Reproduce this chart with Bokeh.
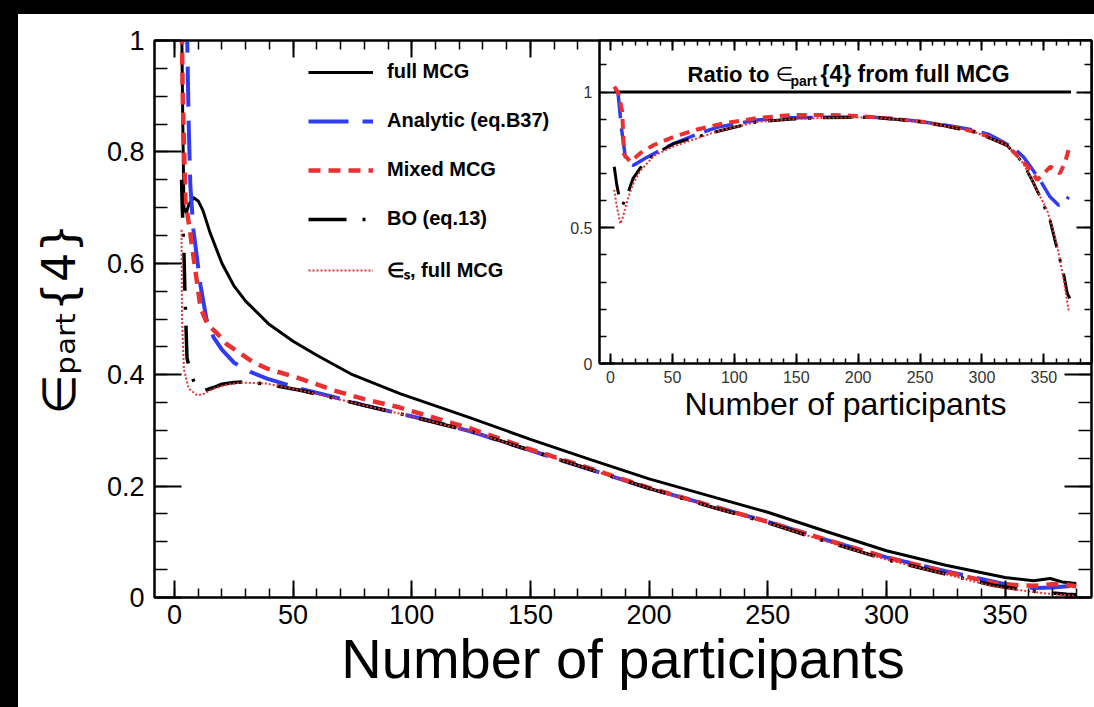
import numpy as np
from bokeh.plotting import figure
from bokeh.models import (Range1d, LinearAxis, SingleIntervalTicker, NumeralTickFormatter,
                          CustomJSTickFormatter, Legend, LegendItem, Label, GridBox)
from bokeh.embed import file_html
from bokeh.resources import INLINE

# ---------------- data (main panel) ----------------
x_full = [3, 3.5, 4, 5, 6, 8, 10, 12, 15, 20, 25, 30, 40, 50, 60, 75, 95, 125, 150, 175,
          200, 225, 250, 275, 300, 325, 350, 362, 369, 374, 380]
y_full = [1.05, 0.86, 0.70, 0.69, 0.705, 0.718, 0.712, 0.695, 0.655, 0.60, 0.56, 0.532, 0.49,
          0.46, 0.435, 0.40, 0.366, 0.322, 0.284, 0.248, 0.213, 0.183, 0.153, 0.118, 0.084,
          0.058, 0.036, 0.030, 0.034, 0.028, 0.025]

x_analytic = [5.2, 6, 6.7, 8, 11, 13.5, 16.5, 20, 25, 32, 39, 53, 67, 80, 95, 110, 125, 150,
              175, 200, 225, 250, 275, 300, 325, 350, 362, 370, 376, 380]
y_analytic = [1.05, 0.85, 0.74, 0.66, 0.56, 0.50, 0.467, 0.445, 0.422, 0.405, 0.393, 0.375,
              0.36, 0.345, 0.33, 0.315, 0.298, 0.264, 0.23, 0.196, 0.166, 0.136, 0.103, 0.072,
              0.047, 0.024, 0.017, 0.018, 0.02, 0.02]

x_mixed = [3, 3.5, 4.6, 6.7, 9.6, 11, 14, 18, 22, 27.8, 33, 39, 53, 67, 80, 95, 110, 125,
           150, 175, 200, 225, 250, 275, 300, 325, 345, 355, 362, 370, 376, 380]
y_mixed = [1.05, 0.9, 0.713, 0.653, 0.563, 0.52, 0.49, 0.474, 0.455, 0.438, 0.423, 0.411,
           0.393, 0.372, 0.356, 0.341, 0.322, 0.303, 0.266, 0.232, 0.197, 0.166, 0.136, 0.103,
           0.072, 0.046, 0.026, 0.022, 0.021, 0.024, 0.023, 0.02]

x_bo = [3, 3.3, 4, 4.6, 5.3, 7, 9, 11, 13, 16.5, 20, 25, 30, 39, 53, 67, 80, 95, 125, 150,
        175, 200, 225, 250, 275, 300, 325, 345, 360, 370, 376, 380]
y_bo = [0.75, 0.70, 0.62, 0.52, 0.43, 0.40, 0.38, 0.372, 0.372, 0.377, 0.383, 0.386, 0.387,
        0.383, 0.372, 0.358, 0.345, 0.33, 0.298, 0.264, 0.23, 0.196, 0.164, 0.134, 0.10,
        0.068, 0.042, 0.022, 0.012, 0.008, 0.006, 0.005]

x_eps = [3, 3.2, 4, 6, 9.6, 12, 16.5, 22, 27.8, 39, 53, 67, 80, 95, 125, 150, 175, 200, 225,
         250, 275, 300, 325, 345, 360, 370, 376, 380]
y_eps = [0.66, 0.50, 0.41, 0.375, 0.363, 0.365, 0.375, 0.382, 0.386, 0.384, 0.372, 0.358,
         0.345, 0.33, 0.298, 0.264, 0.23, 0.196, 0.164, 0.134, 0.10, 0.068, 0.042, 0.02,
         0.011, 0.006, 0.004, 0.003]

# ---------------- data (inset: ratio to full MCG) ----------------
xr_full = [3, 372]
yr_full = [1.0, 1.0]

xr_analytic = [4, 6, 9, 12, 14, 18.6, 24, 28, 40, 51, 70, 86, 100, 118.5, 145, 172, 200, 212,
               230, 253, 275, 293, 305, 317, 326, 333.6, 340, 347, 355, 362, 366, 370]
yr_analytic = [1.01, 1.0, 0.86, 0.76, 0.74, 0.73, 0.745, 0.756, 0.785, 0.81, 0.845, 0.87,
               0.882, 0.897, 0.905, 0.907, 0.908, 0.907, 0.902, 0.89, 0.875, 0.86, 0.845,
               0.817, 0.792, 0.761, 0.72, 0.675, 0.614, 0.583, 0.59, 0.614]

xr_mixed = [3, 6, 9.4, 11, 16, 24, 35, 51, 70, 91.5, 120, 145, 175, 199, 225, 253, 275, 293,
            308, 320, 333, 340, 344.6, 350, 355.4, 360, 363, 367, 370]
yr_mixed = [1.02, 1.0, 0.93, 0.77, 0.743, 0.775, 0.805, 0.835, 0.862, 0.885, 0.905, 0.915,
            0.916, 0.912, 0.903, 0.89, 0.872, 0.855, 0.832, 0.805, 0.745, 0.71, 0.676, 0.70,
            0.725, 0.71, 0.70, 0.74, 0.786]

xr_bo = [3, 5, 8, 10, 13.5, 18, 24, 35, 51, 70, 86, 118, 145, 172, 212, 253, 293, 320, 333,
         340, 347, 355, 361, 366, 369, 371]
yr_bo = [0.725, 0.66, 0.59, 0.585, 0.62, 0.68, 0.72, 0.77, 0.81, 0.835, 0.855, 0.89, 0.90,
         0.905, 0.907, 0.89, 0.855, 0.805, 0.74, 0.68, 0.614, 0.528, 0.417, 0.33, 0.257, 0.24]

xr_eps = [3, 5, 8, 10, 13.5, 18, 24, 35, 51, 70, 86, 118, 145, 172, 212, 253, 293, 320, 333,
          340, 347, 352.6, 357, 361, 366, 370]
yr_eps = [0.64, 0.58, 0.515, 0.54, 0.60, 0.66, 0.71, 0.765, 0.80, 0.83, 0.855, 0.89, 0.90,
          0.905, 0.907, 0.89, 0.855, 0.805, 0.74, 0.68, 0.615, 0.565, 0.50, 0.43, 0.31, 0.196]

series_labels = ["full MCG", "Analytic (eq.B37)", "Mixed MCG", "BO (eq.13)", "\u2208\u209b, full MCG"]

FONT = "Liberation Sans"
BLUE = "#2f3cf2"
RED = "#ea3030"


def make_axis(ticker_interval, minor, tick_in, minor_in, label_size, standoff, show_labels=True):
    ax = LinearAxis(ticker=SingleIntervalTicker(interval=ticker_interval, num_minor_ticks=minor))
    ax.axis_line_width = 2
    ax.axis_line_color = "black"
    ax.major_tick_in = tick_in
    ax.major_tick_out = 0
    ax.minor_tick_in = minor_in
    ax.minor_tick_out = 0
    ax.major_tick_line_width = 2
    ax.minor_tick_line_width = 1.5
    ax.major_label_text_font = FONT
    ax.axis_label_text_color = "black"
    if show_labels:
        ax.formatter = NumeralTickFormatter(format="0.[0]")
        ax.major_label_text_font_size = label_size
        ax.major_label_standoff = standoff
        ax.major_label_text_color = "black"
    else:
        # mirror axis: ticks only, no labels
        ax.formatter = CustomJSTickFormatter(code="return '';")
        ax.major_label_text_font_size = "1px"
        ax.major_label_standoff = 0
    return ax


# ---------------- main figure ----------------
p = figure(width=1076, height=693, output_backend="svg", toolbar_location=None,
           x_range=Range1d(-8.4, 386.4), y_range=Range1d(0, 1),
           min_border_left=136, min_border_right=3, min_border_top=26, min_border_bottom=110,
           x_axis_location=None, y_axis_location=None)
p.grid.visible = False
p.outline_line_color = "black"
p.outline_line_width = 2
p.border_fill_color = "white"
p.background_fill_color = "white"

xb = make_axis(50, 5, 17, 9, "27px", 7)
xb.axis_label = "Number of participants"
xb.axis_label_text_font = FONT
xb.axis_label_text_font_size = "56px"
xb.axis_label_text_font_style = "normal"
xb.axis_label_standoff = 0
p.add_layout(xb, "below")
p.add_layout(make_axis(50, 5, 17, 9, "0px", 0, False), "above")

yl = make_axis(0.2, 4, 27, 13, "27px", 10)
yl.axis_label = "\u2208\u209a\u2090\u1d63\u209c{4}"
yl.axis_label_text_font = "DejaVu Sans"
yl.axis_label_text_font_size = "46px"
yl.axis_label_text_font_style = "normal"
yl.axis_label_standoff = 18
p.add_layout(yl, "left")
p.add_layout(make_axis(0.2, 4, 27, 13, "0px", 0, False), "right")

r1 = p.line(x_full, y_full, line_color="black", line_width=3)
r2 = p.line(x_analytic, y_analytic, line_color=BLUE, line_width=4, line_dash="40 14")
r3 = p.line(x_mixed, y_mixed, line_color=RED, line_width=4.5, line_dash="12 8")
r4 = p.line(x_bo, y_bo, line_color="black", line_width=3.5, line_dash="38 16 3 16")
r5 = p.line(x_eps, y_eps, line_color=RED, line_width=2, line_dash="2 2")

legend = Legend(items=[LegendItem(label=lab, renderers=[r]) for lab, r in
                       zip(series_labels, [r1, r2, r3, r4, r5])],
                location=(154, 314))
legend.label_text_font = FONT
legend.label_text_font_style = "bold"
legend.label_text_font_size = "20px"
legend.label_text_color = "black"
legend.glyph_width = 65
legend.glyph_height = 20
legend.label_height = 20
legend.spacing = 26
legend.padding = 0
legend.margin = 0
legend.label_standoff = 14
legend.border_line_alpha = 0
legend.background_fill_alpha = 0
p.add_layout(legend)

# ---------------- inset figure ----------------
ins = figure(frame_width=492, frame_height=323, output_backend="svg", toolbar_location=None,
             x_range=Range1d(-8.9, 388.5), y_range=Range1d(0, 1.19),
             min_border_left=39, min_border_right=3, min_border_top=10, min_border_bottom=66,
             x_axis_location=None, y_axis_location=None)
ins.grid.visible = False
ins.border_fill_alpha = 0
ins.background_fill_color = "white"
ins.outline_line_color = "black"
ins.outline_line_width = 2

ixb = make_axis(50, 5, 10, 5, "16px", 7)
ixb.major_label_text_color = "#333333"
ixb.axis_label = "Number of participants"
ixb.axis_label_text_font = FONT
ixb.axis_label_text_font_size = "32px"
ixb.axis_label_text_font_style = "normal"
ixb.axis_label_standoff = 0
ins.add_layout(ixb, "below")
ins.add_layout(make_axis(50, 5, 10, 5, "0px", 0, False), "above")
iyl = make_axis(0.5, 5, 15, 7, "16px", 7)
iyl.major_label_text_color = "#333333"
ins.add_layout(iyl, "left")
ins.add_layout(make_axis(0.5, 5, 15, 7, "0px", 0, False), "right")

ins.line(xr_full, yr_full, line_color="black", line_width=3)
ins.line(xr_analytic, yr_analytic, line_color=BLUE, line_width=3.5, line_dash="30 10")
ins.line(xr_mixed, yr_mixed, line_color=RED, line_width=4, line_dash="10 7")
ins.line(xr_bo, yr_bo, line_color="black", line_width=3, line_dash="28 12 3 12")
ins.line(xr_eps, yr_eps, line_color=RED, line_width=2, line_dash="2 2")

# inset title  "Ratio to ∈_part{4} from full MCG"
ins.add_layout(Label(x=62.2, y=1.066, text="Ratio to", text_font=FONT, text_font_style="bold",
                     text_font_size="22px", text_align="left", text_baseline="alphabetic",
                     text_color="black"))
ins.add_layout(Label(x=133.3, y=1.066, text="\u2208", text_font="DejaVu Sans",
                     text_font_size="20px", text_align="left", text_baseline="alphabetic",
                     text_color="black"))
ins.add_layout(Label(x=145.4, y=1.04, text="part", text_font=FONT, text_font_style="bold",
                     text_font_size="14px", text_align="left", text_baseline="alphabetic",
                     text_color="black"))
ins.add_layout(Label(x=169.6, y=1.066, text="{4} from full MCG", text_font=FONT,
                     text_font_style="bold", text_font_size="23px", text_align="left",
                     text_baseline="alphabetic", text_color="black"))

page_bg = ("linear-gradient(black, black) left top / 18px 100% no-repeat, "
           "linear-gradient(black, black) left top / 100% 14px no-repeat, white")

grid = GridBox(children=[(p, 1, 1, 2, 2), (ins, 2, 2, 1, 1)],
               rows=["14px", "16px", "677px"], cols=["18px", "542px", "534px"],
               styles={"background": page_bg})

open("out.html", "w").write(file_html(grid, INLINE))
